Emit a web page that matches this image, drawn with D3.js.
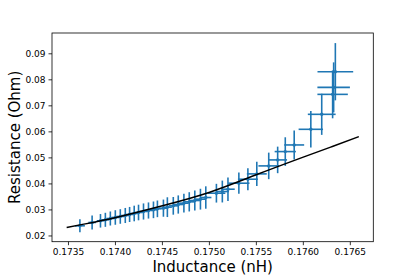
<!DOCTYPE html>
<html lang="en">
	<head>
		<meta charset="utf-8">
		<title>Resistance vs Inductance</title>
		<script type="text/javascript" src="https://d3js.org/d3.v7.min.js"></script>
		<style type="text/css">
			body { margin:0; background:#fff; }
			.axis path, .axis line { stroke:#000; stroke-width:0.8; }
			.axis text { font-family:"DejaVu Sans", sans-serif; font-size:9px; fill:#000; }
			.label { font-family:"DejaVu Sans", sans-serif; font-size:15px; fill:#000; }
		</style>
	</head>
	<body>
		<svg id="chart"></svg>
		<script type="text/javascript">
			// measured points (inductance nH, resistance Ohm) with errors
			var inductance = [0.173627,0.173757,0.173846,0.173898,0.173951,0.174004,0.174057,0.174110,0.174156,0.174205,
				0.174251,0.174304,0.174357,0.174410,0.174452,0.174516,0.174558,0.174621,0.174674,0.174734,
				0.174791,0.174850,0.174910,0.174967,0.175080,0.175143,0.175203,0.175319,0.175415,0.175510,
				0.175637,0.175732,0.175813,0.175908,0.176085,0.176201,0.176317,0.176328,0.176346];
			var resistance = [0.02371,0.02499,0.02563,0.02601,0.02652,0.02691,0.02729,0.02767,0.02806,0.02844,
				0.02882,0.02921,0.02959,0.02985,0.03023,0.03049,0.03087,0.03138,0.03189,0.03240,
				0.03292,0.03343,0.03394,0.03458,0.03624,0.03688,0.03777,0.04008,0.04161,0.04366,
				0.04673,0.04903,0.05223,0.05478,0.06079,0.06655,0.07422,0.07691,0.08292];
			var inductanceErr = [0.000053,0.000040,0.000040,0.000040,0.000041,0.000041,0.000042,0.000042,0.000043,0.000043,
				0.000044,0.000044,0.000045,0.000045,0.000046,0.000047,0.000048,0.000049,0.000050,0.000051,
				0.000053,0.000055,0.000057,0.000060,0.000095,0.000070,0.000072,0.000113,0.000106,0.000106,
				0.000110,0.000100,0.000113,0.000106,0.000130,0.000148,0.000162,0.000173,0.000190];
			var resistanceErr = [0.0025,0.0027,0.0026,0.0027,0.0027,0.0028,0.0028,0.0029,0.0029,0.0030,
				0.0030,0.0031,0.0031,0.0032,0.0032,0.0033,0.0038,0.0034,0.0035,0.0036,
				0.0037,0.0038,0.0040,0.0043,0.0036,0.0042,0.0045,0.0041,0.0042,0.0047,
				0.0051,0.0051,0.0055,0.0056,0.0070,0.0079,0.0092,0.0096,0.0110];

			// model curve
			var modelX = [0.173486,0.173669,0.174022,0.174516,0.175009,0.175503,0.175997,0.176314,0.176596];
			var modelY = [0.02307,0.02435,0.02703,0.03151,0.03662,0.04330,0.05000,0.05420,0.05798];

			var xTicks = [0.1735,0.1740,0.1745,0.1750,0.1755,0.1760,0.1765];
			var yTicks = [0.02,0.03,0.04,0.05,0.06,0.07,0.08,0.09];

			var w = 415, h = 277;
			var margin = {left:52, right:41.7, top:33, bottom:35.3};
			var blue = "#1f77b4";

			var svg = d3.select("#chart").attr("width", w).attr("height", h);

			var xScale = d3.scaleLinear()
				.domain([0.17333, 0.17675])
				.range([margin.left, w - margin.right]);
			var yScale = d3.scaleLinear()
				.domain([0.0176, 0.0978])
				.range([h - margin.bottom, margin.top]);

			var points = inductance.map(function(d,i){
				return {x:d, y:resistance[i], xe:inductanceErr[i], ye:resistanceErr[i]};
			});

			// error bars
			var bars = svg.append("g")
				.attr("stroke", blue)
				.attr("stroke-width", 1.6);

			bars.selectAll("line.h")
				.data(points)
				.enter()
				.append("line")
				.attr("class","h")
				.attr("x1", d => xScale(d.x - d.xe))
				.attr("x2", d => xScale(d.x + d.xe))
				.attr("y1", d => yScale(d.y))
				.attr("y2", d => yScale(d.y));

			bars.selectAll("line.v")
				.data(points)
				.enter()
				.append("line")
				.attr("class","v")
				.attr("x1", d => xScale(d.x))
				.attr("x2", d => xScale(d.x))
				.attr("y1", d => yScale(d.y - d.ye))
				.attr("y2", d => yScale(d.y + d.ye));

			svg.append("g").selectAll("circle")
				.data(points)
				.enter()
				.append("circle")
				.attr("cx", d => xScale(d.x))
				.attr("cy", d => yScale(d.y))
				.attr("r", 1.7)
				.attr("fill", blue);

			// model line
			var line = d3.line()
				.x(d => xScale(d[0]))
				.y(d => yScale(d[1]))
				.curve(d3.curveNatural);

			svg.append("path")
				.datum(modelX.map((d,i) => [d, modelY[i]]))
				.attr("d", line)
				.attr("fill", "none")
				.attr("stroke", "#000")
				.attr("stroke-width", 1.5);

			// axes
			var xAxis = d3.axisBottom(xScale)
				.tickValues(xTicks)
				.tickFormat(d3.format(".4f"))
				.tickSize(3.5)
				.tickPadding(3);
			var yAxis = d3.axisLeft(yScale)
				.tickValues(yTicks)
				.tickFormat(d3.format(".2f"))
				.tickSize(3.5)
				.tickPadding(3);

			svg.append("g")
				.attr("class","axis")
				.attr("transform","translate(0," + (h - margin.bottom) + ")")
				.call(xAxis)
				.call(g => g.select(".domain").remove());
			svg.append("g")
				.attr("class","axis")
				.attr("transform","translate(" + margin.left + ",0)")
				.call(yAxis)
				.call(g => g.select(".domain").remove());

			// frame
			svg.append("rect")
				.attr("x", margin.left)
				.attr("y", margin.top)
				.attr("width", w - margin.left - margin.right)
				.attr("height", h - margin.top - margin.bottom)
				.attr("fill","none")
				.attr("stroke","#000")
				.attr("stroke-width",0.8);

			svg.append("text")
				.attr("class","label")
				.attr("x", (margin.left + w - margin.right) / 2)
				.attr("y", 271.5)
				.attr("text-anchor","middle")
				.text("Inductance (nH)");

			svg.append("text")
				.attr("class","label")
				.attr("transform","translate(19.5," + ((margin.top + h - margin.bottom) / 2) + ") rotate(-90)")
				.attr("text-anchor","middle")
				.text("Resistance (Ohm)");
		</script>
	</body>
</html>
